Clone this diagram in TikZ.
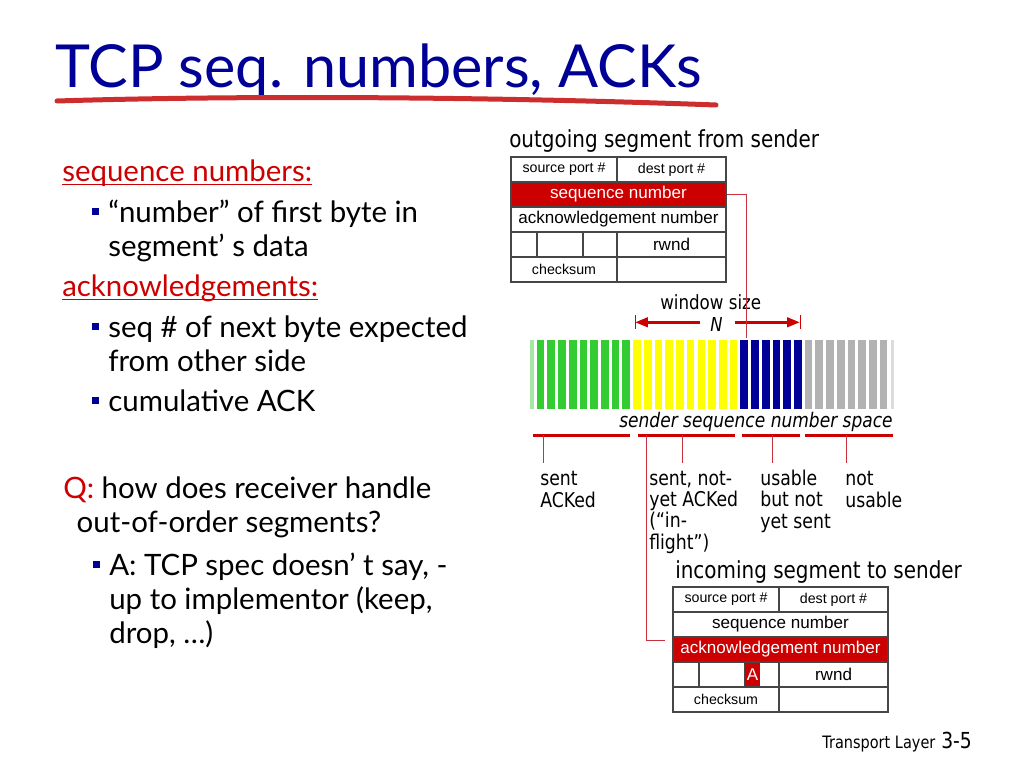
\documentclass[tikz,border=0pt]{standalone}
\usepackage{fontspec}
\setmainfont{Lato}
\newfontfamily\annotfont[FakeStretch=0.85]{DejaVu Sans}
\newfontfamily\fieldfont{Liberation Sans}
\usetikzlibrary{arrows.meta,calc}

\definecolor{titleblue}{RGB}{0,0,150}
\definecolor{slidered}{RGB}{204,0,0}
\definecolor{linkred}{RGB}{200,50,60}
\definecolor{brushred}{RGB}{205,45,45}
\definecolor{fieldline}{RGB}{70,70,70}
\definecolor{ackgreen}{RGB}{51,204,51}
\definecolor{flightyellow}{RGB}{255,255,0}
\definecolor{usablenavy}{RGB}{0,0,153}
\definecolor{unusablegray}{RGB}{178,178,178}

% one pixel of the 1024x768 slide
\newdimen\px \px=0.703125pt

\tikzset{
  slidetitle/.style={font=\fontsize{41.7}{48}\selectfont, text=titleblue, anchor=base west, inner sep=0pt},
  bodytext/.style={font=\fontsize{20.7}{23.9}\selectfont, anchor=base west, inner sep=0pt, align=left},
  redhead/.style={bodytext, text=slidered},
  bullet/.style={fill=usablenavy, minimum size=7\px, inner sep=0pt},
  field/.style={draw=fieldline, line width=0.8pt, inner sep=0pt, minimum height=25\px, font=\fieldfont\fontsize{12}{14}\selectfont},
  smallfield/.style={field, font=\fieldfont\fontsize{10}{12}\selectfont},
  hotfield/.style={field, fill=slidered, text=white},
  annot/.style={font=\annotfont\fontsize{14.3}{14.8}\selectfont, anchor=base west, inner sep=0pt, align=left},
  seghead/.style={annot, font=\annotfont\fontsize{16.5}{18}\selectfont},
  link/.style={draw=linkred, line width=1\px},
  rangebar/.style={draw=slidered, line width=3\px},
  windowarrow/.style={draw=slidered, line width=3\px, -{Triangle[length=9pt,width=6.5pt]}},
}

\begin{document}
\begin{tikzpicture}[x=\px, y=-\px]
\useasboundingbox (0,0) rectangle (1024,768);

% title
\node[slidetitle] (title) at (55,88) {TCP seq. numbers, ACKs};
\draw[brushred, line width=5\px, line cap=round] (57,101) .. controls (250,95) and (500,97) .. (716,105);

% left column (multi-line nodes sit on their last baseline)
\node[redhead] (seqhead) at (62,181.7) {sequence numbers:};
\draw[slidered, line width=1.5\px] ($(seqhead.base west)+(0,3)$) -- ($(seqhead.base east)+(0,3)$);
\node[bodytext] (seqitem) at (108,256.5) {“number” of first byte in\\segment’ s data};
\node[bullet] at ($(seqitem.base west)+(-12.5,-45)$) {};

\node[redhead] (ackhead) at (62,296.7) {acknowledgements:};
\draw[slidered, line width=1.5\px] ($(ackhead.base west)+(0,3)$) -- ($(ackhead.base east)+(0,3)$);
\node[bodytext] (ackitem) at (108,371.2) {seq \# of next byte expected\\from other side};
\node[bullet] at ($(ackitem.base west)+(-12.5,-45)$) {};
\node[bodytext] (cumack) at (108,411.7) {cumulative ACK};
\node[bullet] at ($(cumack.base west)+(-12.5,-11)$) {};

\node[bodytext] (question) at (63,532.3) {\textcolor{slidered}{Q:} how does receiver handle\\\hspace*{9.4pt}out-of-order segments?};
\node[bodytext] (answer) at (109,643) {A: TCP spec doesn’ t say, -\\up to implementor (keep,\\drop, …)};
\node[bullet] at ($(answer.base west)+(-12.5,-79)$) {};

% outgoing segment
\node[seghead] (outhead) at (509,148) {outgoing segment from sender};
\node[smallfield, minimum width=106\px] (srcout) at (564,169.5) {source port \#};
\node[smallfield, minimum width=109\px] (dstout) at (671.5,169.5) {dest port \#};
\node[hotfield, minimum width=215\px] (seqout) at (618.5,194.5) {sequence number};
\node[field, minimum width=215\px] (ackout) at (618.5,219.5) {acknowledgement number};
\node[field, minimum width=26\px] (hlenout) at (524,244.5) {};
\node[field, minimum width=46\px] (resout) at (560,244.5) {};
\node[field, minimum width=34\px] (flagout) at (600,244.5) {};
\node[field, minimum width=109\px] (rwndout) at (671.5,244.5) {rwnd};
\node[smallfield, minimum width=106\px] (sumout) at (564,269.5) {checksum};
\node[field, minimum width=109\px] (urgout) at (671.5,269.5) {};

% window
\node[annot, font=\annotfont\fontsize{13.8}{14}\selectfont] (winlabel) at (660,310) {window size};
\node[annot, font=\annotfont\itshape\fontsize{13.5}{14}\selectfont] (winn) at (710,331.7) {N};
\coordinate (winl) at (635,322.3);
\coordinate (winr) at (800,322.3);
\draw[windowarrow] (700,322.3) -- (winl);
\draw[windowarrow] (735,322.3) -- (winr);
\draw[slidered, line width=1\px] (635,315) -- (635,329) (800,315) -- (800,329);

\fill[ackgreen!45] (530,340) rectangle (533.5,409);
\foreach \i in {0,...,8} \fill[ackgreen] ({536.7+10.72*\i},340) rectangle ++(7.7,69);
\foreach \i in {9,...,18} \fill[flightyellow] ({536.7+10.72*\i},340) rectangle ++(7.7,69);
\foreach \i in {19,...,24} \fill[usablenavy] ({536.7+10.72*\i},340) rectangle ++(7.7,69);
\foreach \i in {25,...,32} \fill[unusablegray] ({536.7+10.72*\i},340) rectangle ++(7.7,69);
\fill[unusablegray!45] (890.5,340) rectangle (894,409);

\node[annot, anchor=base east, font=\annotfont\itshape\fontsize{14.1}{15}\selectfont] (spacelabel) at (893,427) {sender sequence number space};

% ranges
\draw[rangebar] (533,435) -- (630,435);
\draw[rangebar] (638,435) -- (735,435);
\draw[rangebar] (742,435) -- (800,435);
\draw[rangebar] (805,435) -- (893,435);
\draw[link] (543,435) -- (543,463);
\draw[link] (682,435) -- (682,463);
\draw[link] (772,435) -- (772,463);
\draw[link] (846,435) -- (846,463);

\node[annot] (sentacked) at (540,507) {sent\\ACKed};
\node[annot] (inflight) at (649,549) {sent, not-\\yet ACKed\\(“in-\\flight”)};
\node[annot] (usable) at (760,528) {usable\\but not\\yet sent};
\node[annot] (notusable) at (845,507) {not\\usable};

% incoming segment
\node[seghead] (inhead) at (675,578) {incoming segment to sender};
\node[smallfield, minimum width=106\px] (srcin) at (726,599.5) {source port \#};
\node[smallfield, minimum width=109\px] (dstin) at (833.5,599.5) {dest port \#};
\node[field, minimum width=215\px] (seqin) at (780.5,624.5) {sequence number};
\node[hotfield, minimum width=215\px] (ackin) at (780.5,649.5) {acknowledgement number};
\node[field, minimum width=26\px] (hlenin) at (686,674.5) {};
\node[field, minimum width=46\px] (resin) at (722,674.5) {};
\node[field, minimum width=34\px] (flagin) at (762,674.5) {};
\node[hotfield, draw=none, minimum width=15\px, minimum height=23\px] (ackflag) at (752.5,674.5) {A};
\node[field, minimum width=109\px] (rwndin) at (833.5,674.5) {rwnd};
\node[smallfield, minimum width=106\px] (sumin) at (726,699.5) {checksum};
\node[field, minimum width=109\px] (urgin) at (833.5,699.5) {};

% connectors
\coordinate (wintop) at (746,338);
\draw[link] (seqout.east) -| (wintop);
\coordinate (flightfoot) at (646,435);
\coordinate (ackend) at (665,640);
\draw[link] (flightfoot) |- (ackend);

% footer
\node[annot, font=\annotfont\fontsize{12}{14}\selectfont] (footer) at (822,748) {Transport Layer};
\node[annot, font=\annotfont\fontsize{15.5}{16}\selectfont] (slideno) at (941,748) {3-5};
\end{tikzpicture}
\end{document}
